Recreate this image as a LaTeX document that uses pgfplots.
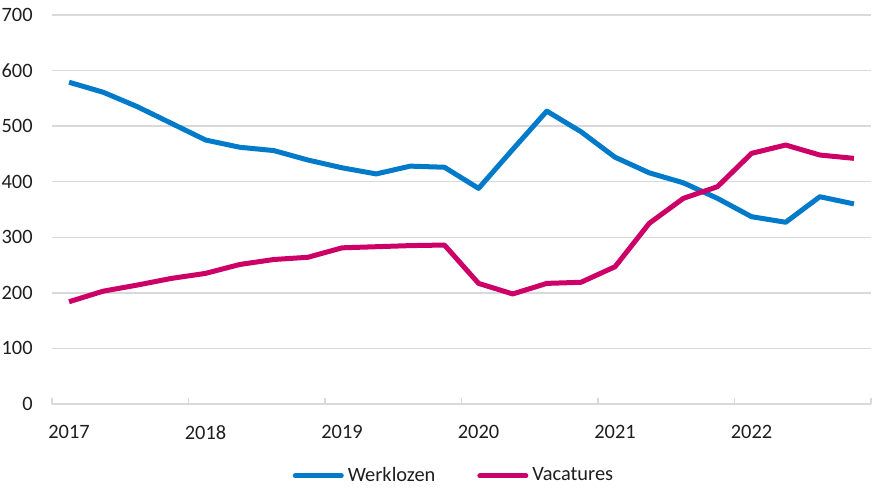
\documentclass[border=0pt]{standalone}
\usepackage{fontspec}
\setmainfont{Carlito}
\usepackage{pgfplots}
\pgfplotsset{compat=1.18}
\definecolor{cblue}{RGB}{0,122,201}
\definecolor{cpink}{RGB}{204,0,102}
\definecolor{cgrid}{RGB}{217,217,217}
\definecolor{ctext}{RGB}{30,30,30}
\begin{document}
\begin{tikzpicture}
\begin{axis}[
  scale only axis,
  width=409.5pt, height=194.5pt,
  xmin=-0.5, xmax=23.5,
  ymin=0, ymax=700,
  ytick={0,100,...,700},
  xtick={0,4,8,12,16,20},
  xticklabels={2017,2018,2019,2020,2021,2022},
  minor xtick={-0.5,3.5,7.5,11.5,15.5,19.5,23.5},
  major tick length=0pt,
  minor tick length=3pt,
  tick align=inside,
  tick pos=bottom,
  minor tick style={cgrid, line width=0.75pt},
  ymajorgrids,
  grid style={cgrid, line width=0.75pt},
  axis line style={draw=none},
  font=\fontsize{10.2}{12}\selectfont,
  tick label style={text=ctext},
  yticklabel style={anchor=east, inner sep=0pt, xshift=-9.5pt},
  xticklabel style={anchor=north, inner sep=0pt, yshift=-10.5pt},
  /pgf/number format/assume math mode=true,
  legend columns=2,
  legend style={at={(rel axis cs:0.492,-0.185)}, anchor=center, draw=none,
    fill=none, font=\fontsize{10.2}{12}\selectfont, text=ctext,
    /tikz/every even column/.append style={column sep=19pt},
    inner sep=0pt, cells={anchor=west}},
  legend image code/.code={\draw[#1, line cap=round] (0pt,0pt) -- (23pt,0pt);},
  every axis plot/.append style={line width=2.5pt, line join=round},
]
\addplot[cblue] coordinates {
(0,579) (1,561) (2,535) (3,505) (4,475) (5,462) (6,456) (7,439)
(8,425) (9,414) (10,428) (11,426) (12,388) (13,458) (14,527) (15,490)
(16,444) (17,416) (18,398) (19,370) (20,337) (21,327) (22,373) (23,360)
};
\addlegendentry{Werklozen}
\addplot[cpink] coordinates {
(0,184) (1,203) (2,214) (3,226) (4,235) (5,251) (6,260) (7,264)
(8,281) (9,283) (10,285) (11,286) (12,217) (13,198) (14,217) (15,219)
(16,247) (17,325) (18,370) (19,391) (20,451) (21,466) (22,448) (23,442)
};
\addlegendentry{Vacatures}
\coordinate (sw) at (rel axis cs:0,0);
\coordinate (ne) at (rel axis cs:1,1);
\end{axis}
\path[use as bounding box] ([shift={(-26pt,-44pt)}]sw) rectangle ([shift={(10.5pt,7.5pt)}]ne);
\end{tikzpicture}
\end{document}
